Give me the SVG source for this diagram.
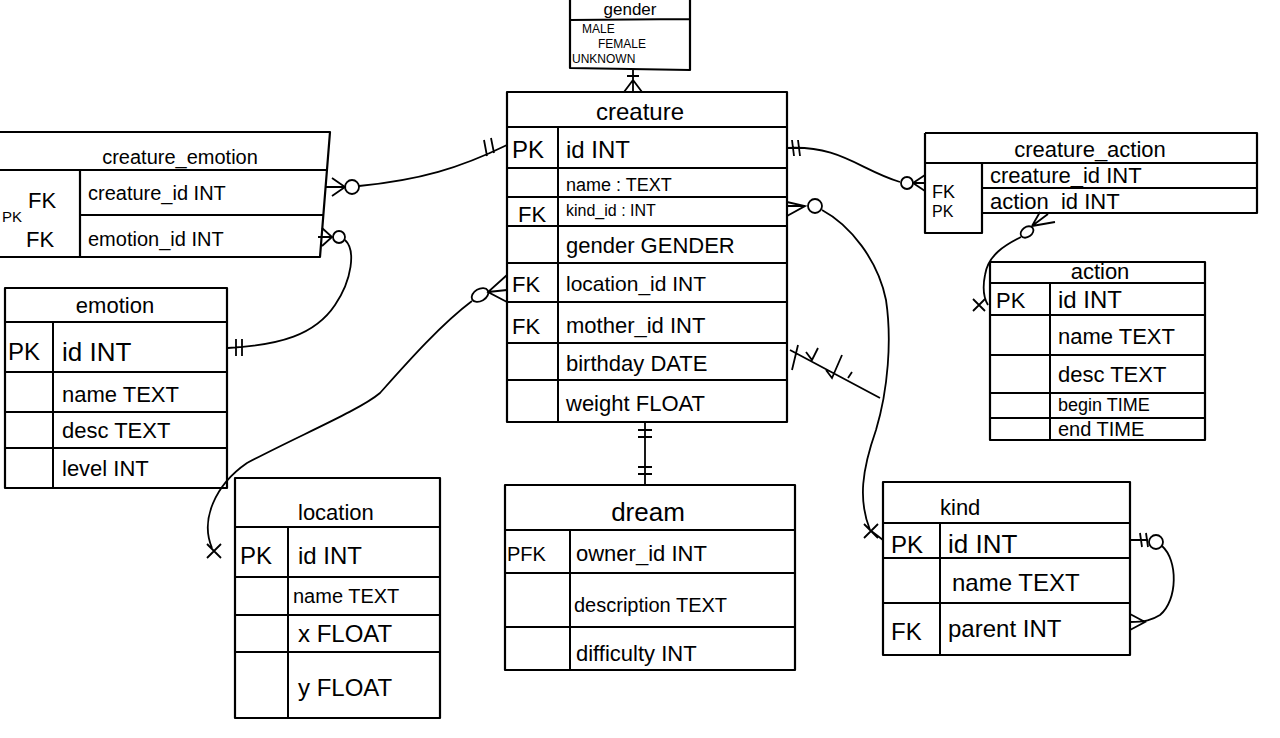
<svg xmlns="http://www.w3.org/2000/svg" width="1280" height="738" viewBox="0 0 1280 738">
<style>
.box{fill:none;stroke:#000;stroke-width:2.2;stroke-linejoin:round}
.ln{fill:none;stroke:#000;stroke-width:2}
.c{fill:none;stroke:#000;stroke-width:1.8}
text{font-family:"Liberation Sans",Arial,sans-serif;fill:#000}
.m{text-anchor:middle}
</style>
<rect width="1280" height="738" fill="#fff"/>

<g id="gender">
<path class="box" d="M570,0 L570,68 L690,70 L690,0 M570,20 L690,19"/>
<text x="630" y="15" class="m" font-size="17">gender</text>
<text x="582" y="33" font-size="12">MALE</text>
<text x="598" y="48" font-size="12">FEMALE</text>
<text x="572" y="63" font-size="12">UNKNOWN</text>
</g>

<g id="creature">
<rect class="box" x="507" y="92" width="280" height="330"/>
<path class="ln" d="M507,127 L787,127 M558,127 L558,422 M507,168 L787,168 M507,197 L787,197 M507,226 L787,226 M507,263 L787,263 M507,302 L787,302 M507,343 L787,343 M507,380 L787,380"/>
<text x="640" y="120" class="m" font-size="24">creature</text>
<text x="512" y="158" font-size="24">PK</text>
<text x="566" y="158" font-size="24">id INT</text>
<text x="566" y="191" font-size="18">name : TEXT</text>
<text x="518" y="222" font-size="22">FK</text>
<text x="566" y="216" font-size="16">kind_id : INT</text>
<text x="566" y="253" font-size="22">gender GENDER</text>
<text x="512" y="292" font-size="22">FK</text>
<text x="566" y="291" font-size="21">location_id INT</text>
<text x="512" y="334" font-size="22">FK</text>
<text x="566" y="333" font-size="22">mother_id INT</text>
<text x="566" y="371" font-size="22">birthday DATE</text>
<text x="566" y="411" font-size="22">weight FLOAT</text>
</g>

<g id="creature_emotion">
<path class="box" d="M0,132 L330,132 L320,257 L0,257 M0,170 L328,170 M80,215 L324,215 M80,170 L80,257"/>
<text x="180" y="164" class="m" font-size="20">creature_emotion</text>
<text x="28" y="208" font-size="22">FK</text>
<text x="88" y="200" font-size="20">creature_id INT</text>
<text x="26" y="247" font-size="22">FK</text>
<text x="88" y="246" font-size="20">emotion_id INT</text>
<text x="2" y="222" font-size="15">PK</text>
</g>

<g id="emotion">
<rect class="box" x="5" y="288" width="222" height="200"/>
<path class="ln" d="M5,322 L227,322 M53,322 L53,488 M5,372 L227,372 M5,412 L227,412 M5,448 L227,448"/>
<text x="115" y="313" class="m" font-size="22">emotion</text>
<text x="8" y="360" font-size="24">PK</text>
<text x="62" y="361" font-size="26">id INT</text>
<text x="62" y="402" font-size="22">name TEXT</text>
<text x="62" y="438" font-size="22">desc TEXT</text>
<text x="62" y="476" font-size="22">level INT</text>
</g>

<g id="location">
<rect class="box" x="235" y="478" width="205" height="240"/>
<path class="ln" d="M235,527 L440,527 M288,527 L288,718 M235,577 L440,577 M235,615 L440,615 M235,652 L440,652"/>
<text x="298" y="520" font-size="22">location</text>
<text x="240" y="564" font-size="24">PK</text>
<text x="298" y="564" font-size="24">id INT</text>
<text x="293" y="603" font-size="20">name TEXT</text>
<text x="298" y="642" font-size="24">x FLOAT</text>
<text x="298" y="696" font-size="24">y FLOAT</text>
</g>

<g id="dream">
<rect class="box" x="505" y="485" width="290" height="185"/>
<path class="ln" d="M505,530 L795,530 M570,530 L570,670 M505,573 L795,573 M505,627 L795,627"/>
<text x="648" y="521" class="m" font-size="26">dream</text>
<text x="507" y="561" font-size="20">PFK</text>
<text x="576" y="561" font-size="22">owner_id INT</text>
<text x="574" y="612" font-size="20">description TEXT</text>
<text x="576" y="661" font-size="22">difficulty INT</text>
</g>

<g id="kind">
<rect class="box" x="883" y="482" width="247" height="173"/>
<path class="ln" d="M883,523 L1130,523 M940,523 L940,655 M883,558 L1130,558 M883,603 L1130,603"/>
<text x="940" y="515" font-size="22">kind</text>
<text x="891" y="553" font-size="24">PK</text>
<text x="948" y="553" font-size="26">id INT</text>
<text x="952" y="591" font-size="24">name TEXT</text>
<text x="891" y="640" font-size="24">FK</text>
<text x="948" y="637" font-size="24">parent INT</text>
</g>

<g id="creature_action">
<path class="box" d="M925,133 L1257,133 L1257,213 L982,213 M925,133 L925,233 L982,233 L982,163 M925,163 L1257,163 M982,188 L1257,188"/>
<text x="1090" y="157" class="m" font-size="22">creature_action</text>
<text x="932" y="198" font-size="18">FK</text>
<text x="932" y="217" font-size="16">PK</text>
<text x="990" y="183" font-size="22">creature_id INT</text>
<text x="990" y="209" font-size="22">action_id INT</text>
</g>

<g id="action">
<rect class="box" x="990" y="262" width="215" height="178"/>
<path class="ln" d="M990,283 L1205,283 M1050,283 L1050,440 M990,315 L1205,315 M990,355 L1205,355 M990,393 L1205,393 M990,418 L1205,418"/>
<text x="1100" y="279" class="m" font-size="22">action</text>
<text x="996" y="308" font-size="22">PK</text>
<text x="1058" y="308" font-size="24">id INT</text>
<text x="1058" y="344" font-size="22">name TEXT</text>
<text x="1058" y="382" font-size="22">desc TEXT</text>
<text x="1058" y="411" font-size="18">begin TIME</text>
<text x="1058" y="436" font-size="20">end TIME</text>
</g>

<g id="connectors">
<path class="c" d="M633,70 L633,92 M624,92 L633,80 L642,92 M627,76 L639,76"/>
<path class="c" d="M332,178 L345,187 L332,196 M325,187 L345,187"/>
<circle class="c" cx="352" cy="187" r="7"/>
<path class="c" d="M359,186 C420,180 460,168 507,145 M484,140 L487,156 M491,138 L494,153"/>
<path class="c" d="M322,228 L332,237 L322,246 M318,237 L332,237"/>
<circle class="c" cx="339" cy="237" r="6"/>
<path class="c" d="M345,240 C356,250 352,280 335,305 C315,335 280,345 228,348 M236,339 L236,356 M242,339 L242,356"/>
<path class="c" d="M507,275 L488,292 L507,302 M507,290 L488,292"/>
<ellipse class="c" cx="480" cy="295" rx="9" ry="6" transform="rotate(-30 480 295)"/>
<path class="c" d="M472,301 C440,325 405,365 380,393 C360,410 300,435 247,463 C215,485 200,520 212,548 M207,544 L221,558 M221,544 L207,558"/>
<path class="c" d="M787,202 L805,206 L787,216 M787,206 L805,206"/>
<circle class="c" cx="815" cy="206" r="7"/>
<path class="c" d="M822,210 C850,225 878,260 886,300 C892,340 888,390 876,430 C862,470 858,500 870,530 M864,524 L878,538 M878,524 L864,538 M870,530 L883,540"/>
<path class="c" d="M790,350 L880,398 M798,345 L792,370 M806,352 L812,360 L818,348 M826,370 L832,378 L842,355 M848,378 L852,372"/>
<path class="c" d="M787,148 L798,148 M792,140 L794,156 M798,140 L800,156 M787,148 C840,145 860,170 900,182"/>
<circle class="c" cx="907" cy="183" r="6"/>
<path class="c" d="M913,183 L925,175 M913,183 L925,191 M913,183 L925,183"/>
<path class="c" d="M1032,226 L1048,214 M1032,226 L1040,212 M1032,226 L1055,222"/>
<ellipse class="c" cx="1027" cy="232" rx="7" ry="5" transform="rotate(-35 1027 232)"/>
<path class="c" d="M1021,237 C1005,245 988,255 985,275 C982,290 985,300 988,305 M973,299 L985,311 M985,299 L973,311"/>
<path class="c" d="M645,422 L645,485 M638,430 L652,430 M638,437 L652,437 M638,467 L652,467 M638,474 L652,474"/>
<path class="c" d="M1130,540 L1148,540 M1140,533 L1142,547 M1146,533 L1148,547"/>
<circle class="c" cx="1156" cy="542" r="7"/>
<path class="c" d="M1162,546 C1178,560 1178,600 1160,615 C1152,620 1145,622 1130,622 M1130,614 L1145,622 L1130,630"/>
</g>
</svg>
